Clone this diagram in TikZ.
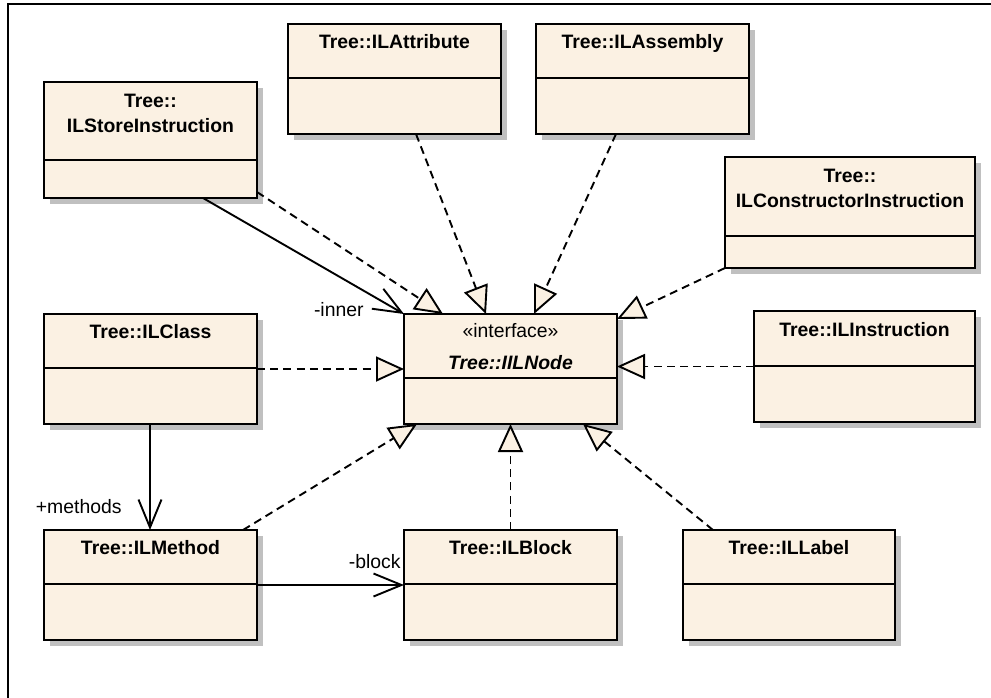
\documentclass[tikz,border=0pt]{standalone}
\usepackage{fontspec}
\setmainfont{Liberation Sans}
\usetikzlibrary{arrows.meta,calc,fit,shadows}

\definecolor{umlfill}{RGB}{251,241,227}
\definecolor{umlshadow}{RGB}{192,192,192}

\tikzset{
  classbox/.style={rectangle, draw=black, line width=1pt, fill=umlfill,
    inner sep=0pt, outer sep=0pt,
    drop shadow={shadow xshift=3pt, shadow yshift=-3pt, fill=umlshadow, opacity=1}},
  divider/.style={line width=1pt, draw=black},
  nametext/.style={font=\fontsize{9.7}{11}\selectfont\bfseries, inner sep=0pt, anchor=base},
  stereotext/.style={font=\fontsize{9.7}{11}\selectfont, inner sep=0pt, anchor=base},
  ifacetext/.style={font=\fontsize{9.7}{11}\selectfont\bfseries\itshape, inner sep=0pt, anchor=base},
  roletext/.style={font=\fontsize{9.7}{11}\selectfont, inner sep=0pt, anchor=base east},
  realize/.style={line width=0.95pt, dash pattern=on 4pt off 2.6pt,
    -{Triangle[length=14pt, width=12.5pt, fill=umlfill, line width=0.95pt]}},
  assoc/.style={line width=0.95pt,
    -{Straight Barb[length=14pt, width=11.5pt, line width=0.95pt]}},
  frame/.style={line width=1.2pt, draw=black}
}

% class box: name, x1, y1, x2, y2, y of the compartment line
\newcommand{\umlclass}[6]{%
  \node[classbox, fit={(#2,#3) (#4,#5)}] (#1) {};
  \draw[divider] (#2,#6) -- (#4,#6);
}

\begin{document}
\begin{tikzpicture}[x=0.5pt, y=-0.5pt]
  \useasboundingbox (0,0) rectangle (991,697);
  \clip (0,0) rectangle (991,697);
  \draw[frame] (8,4) rectangle (1030,730);

  % classes
  \umlclass{store}{44}{82}{257}{198}{160}
  \umlclass{attr}{288}{24}{501}{134}{78}
  \umlclass{asm}{536}{24}{749}{134}{78}
  \umlclass{ctor}{725}{157}{975}{268}{236}
  \umlclass{iface}{404}{314}{617}{424}{378}
  \umlclass{instr}{754}{311}{975}{422}{366}
  \umlclass{cls}{44}{314}{257}{424}{368}
  \umlclass{meth}{44}{530}{257}{640}{584}
  \umlclass{block}{404}{530}{617}{640}{584}
  \umlclass{lab}{683}{530}{895}{640}{584}

  % class names
  \node[nametext] (storeA) at (150.5,107) {Tree::};
  \node[nametext] (storeB) at (150.5,132) {ILStoreInstruction};
  \node[nametext] (attrT) at (394.5,48) {Tree::ILAttribute};
  \node[nametext] (asmT) at (642.5,48) {Tree::ILAssembly};
  \node[nametext] (ctorA) at (850,182) {Tree::};
  \node[nametext] (ctorB) at (850,207) {ILConstructorInstruction};
  \node[stereotext] (ifaceS) at (510.5,337) {«interface»};
  \node[ifacetext] (ifaceT) at (510.5,369) {Tree::IILNode};
  \node[nametext] (instrT) at (864.5,336) {Tree::ILInstruction};
  \node[nametext] (clsT) at (150.5,338) {Tree::ILClass};
  \node[nametext] (methT) at (150.5,554) {Tree::ILMethod};
  \node[nametext] (blockT) at (510.5,554) {Tree::ILBlock};
  \node[nametext] (labT) at (789,554) {Tree::ILLabel};

  % associations
  \draw[assoc] ($(store.south west)+(159,0)$) -- (iface.north west);
  \node[roletext] (innerL) at (364,316) {-inner};
  \draw[assoc] ($(cls.south west)+(106,0)$) -- ($(meth.north west)+(106,0)$);
  \node[roletext] (methodsL) at (122,513) {+methods};
  \draw[assoc] (meth.east) -- (block.west);
  \node[roletext] (blockL) at (401,568) {-block};

  % realizations of the interface
  \draw[realize] ($(store.south east)+(0,-6)$) -- ($(iface.north west)+(39,0)$);
  \draw[realize] ($(attr.south west)+(128,0)$) -- ($(iface.north west)+(82,0)$);
  \draw[realize] ($(asm.south west)+(80,0)$) -- ($(iface.north west)+(130,0)$);
  \draw[realize] (ctor.south west) -- ($(iface.north east)+(0,5)$);
  \draw[realize] (cls.east) -- (iface.west);
  \draw[realize] (instr.west) -- (instr.west -| iface.east);
  \draw[realize] ($(meth.north east)+(-14,0)$) -- ($(iface.south west)+(13,0)$);
  \draw[realize] (block.north) -- (iface.south);
  \draw[realize] ($(lab.north west)+(30,0)$) -- ($(iface.south west)+(179,0)$);
\end{tikzpicture}
\end{document}
